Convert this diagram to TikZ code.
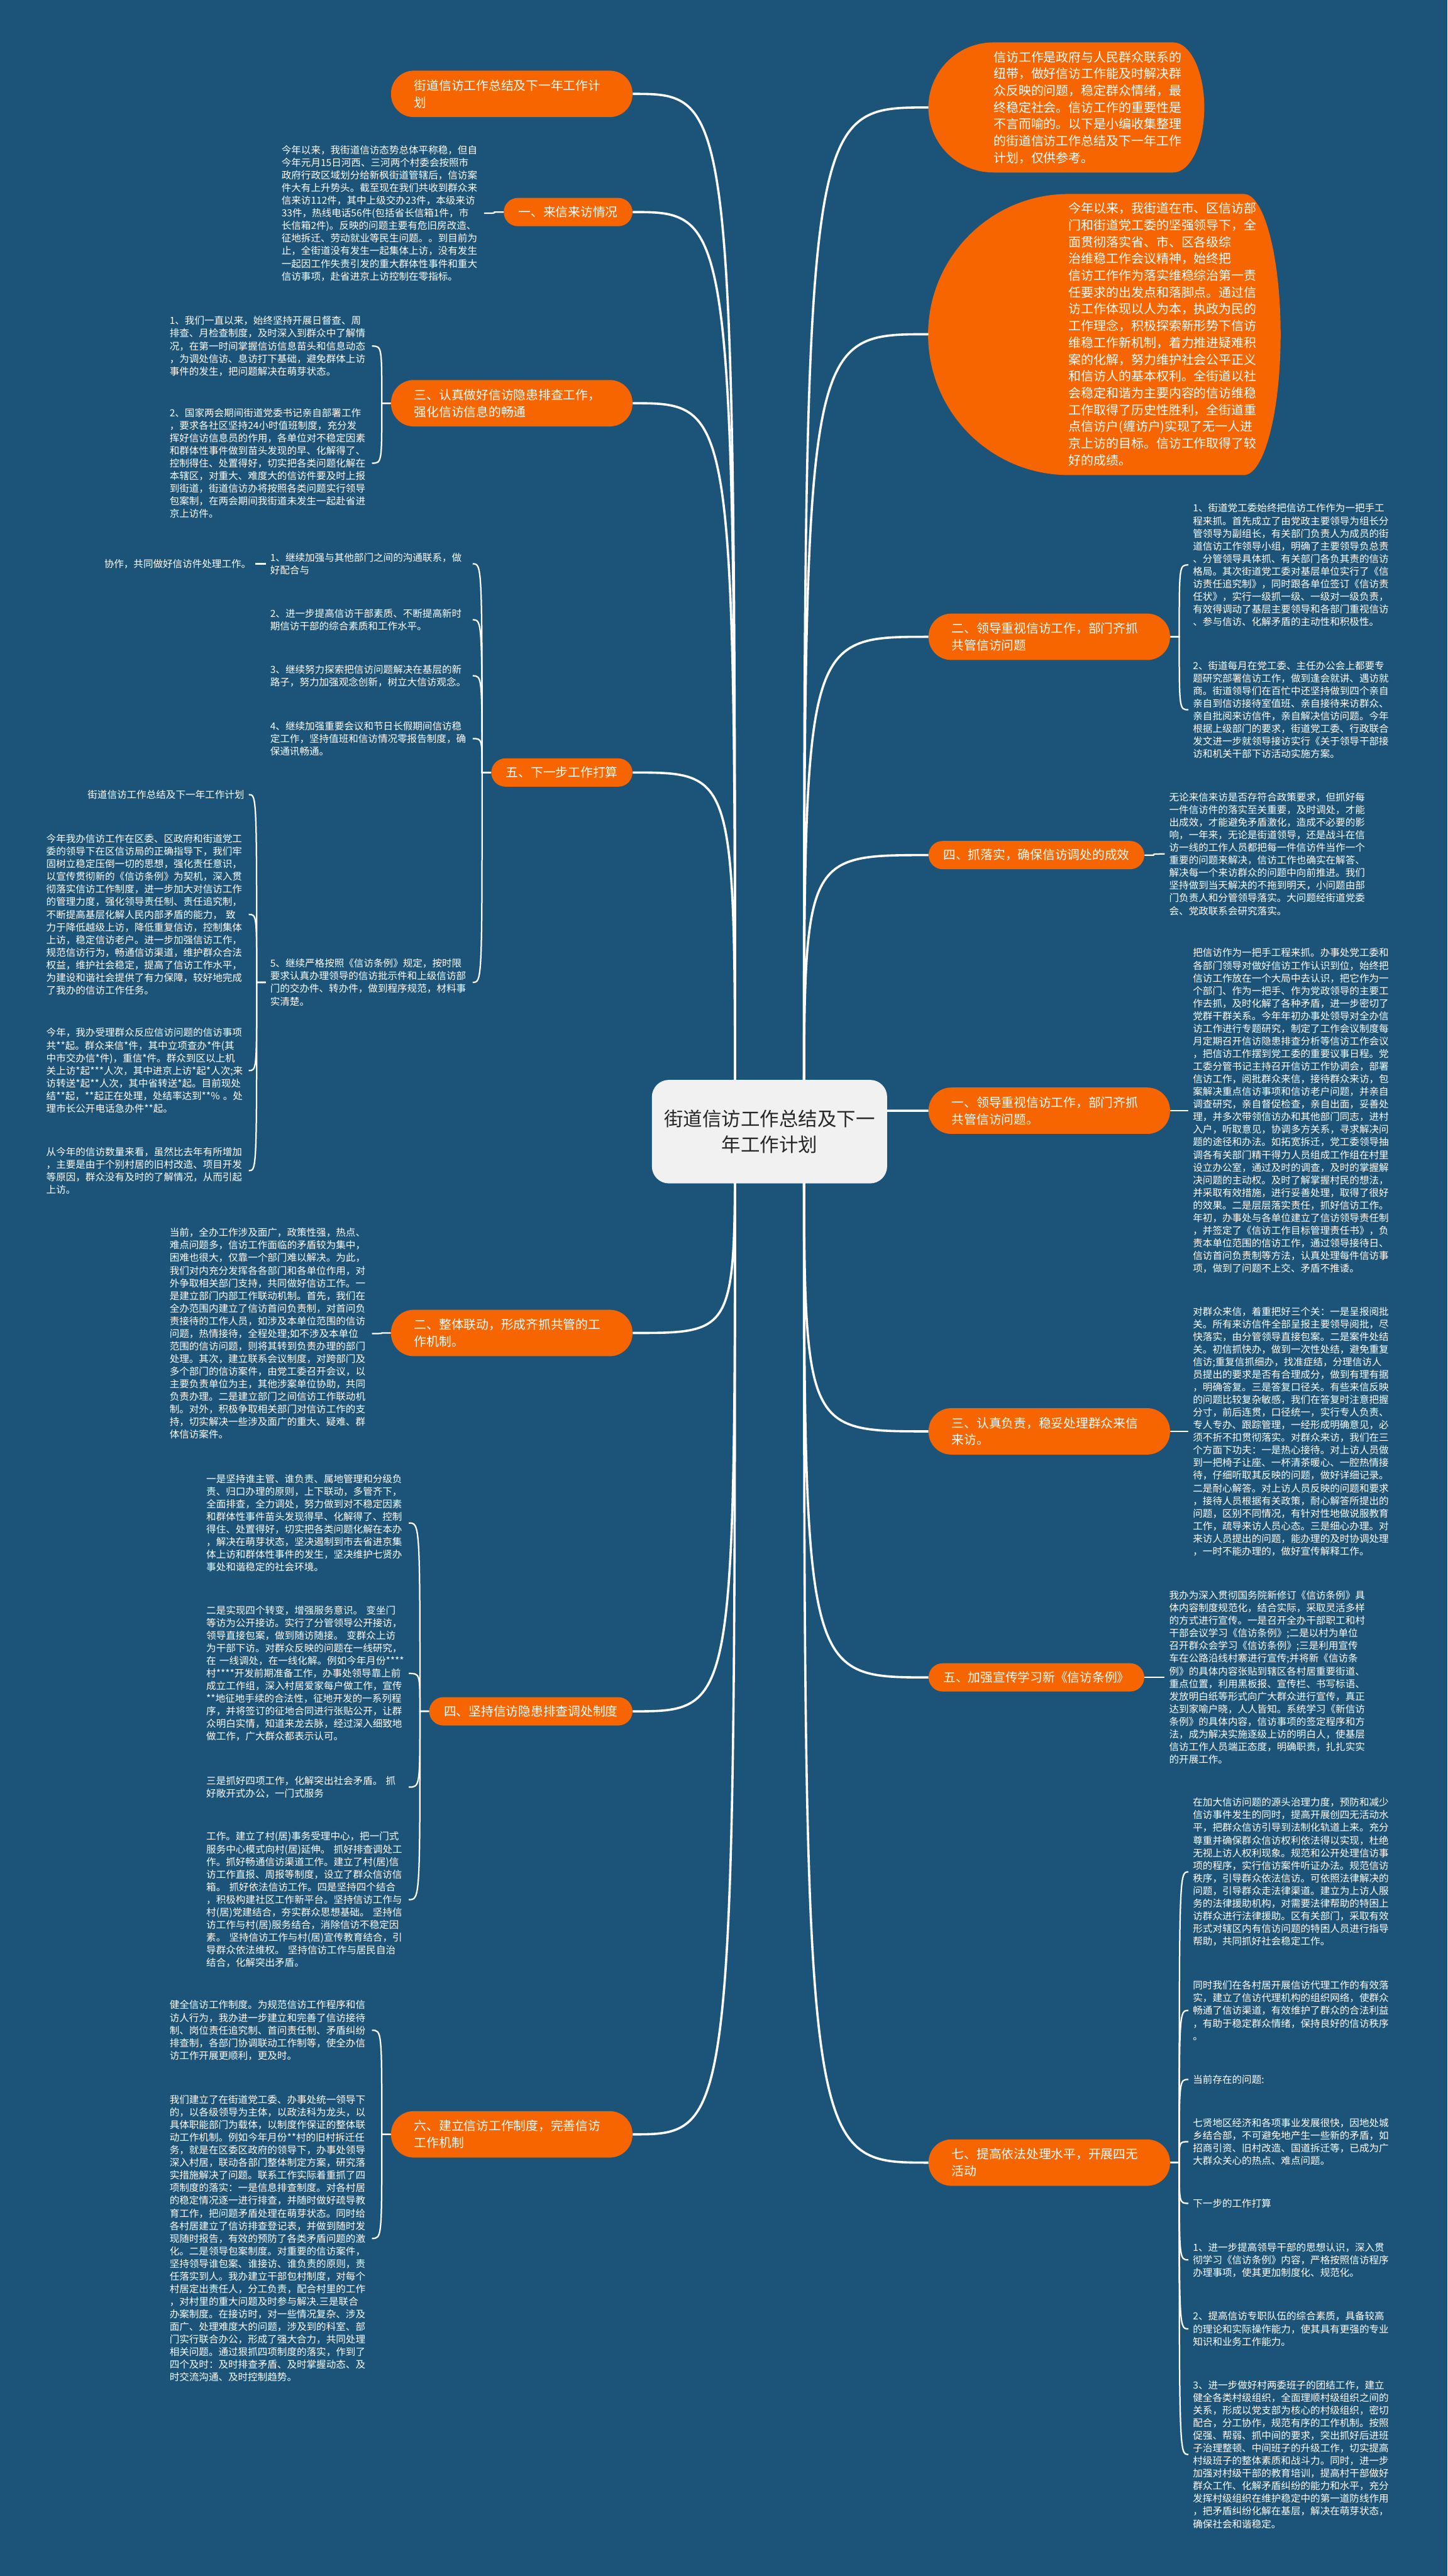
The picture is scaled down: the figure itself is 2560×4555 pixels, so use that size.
\documentclass[tikz,border=0pt]{standalone}
\usepackage{fontspec}
\setmainfont{Noto Sans CJK SC}
\definecolor{bgblue}{RGB}{27,84,120}
\definecolor{topicorange}{RGB}{247,101,0}
\definecolor{hubgray}{RGB}{241,241,241}
\pgfdeclarelayer{back}
\pgfdeclarelayer{links}
\pgfsetlayers{back,links,main}
\tikzset{
  hub/.style={fill=hubgray,text=black!85,rounded corners=6mm,align=center,text width=76mm,
    minimum width=83.2mm,minimum height=36.6mm,font=\fontsize{19.3pt}{26pt}\selectfont},
  topic/.style={fill=topicorange,text=white,rounded corners=5mm,inner xsep=5.2mm,inner ysep=0mm,
    minimum height=10mm,font=\fontsize{12.5pt}{17pt}\selectfont},
  topictwo/.style={topic,text width=69mm,align=left,inner xsep=8.2mm,minimum height=16.4mm,rounded corners=8mm},
  bubble/.style={text=white,align=left,text width=68mm,inner ysep=2mm,
    font=\fontsize{12.6pt}{16.9pt}\selectfont},
  note/.style={text=white,inner sep=0pt,outer sep=1.6mm,align=left,text width=70mm,
    font=\fontsize{9.85pt}{12.7pt}\selectfont},
  shortnote/.style={text=white,inner sep=0pt,outer sep=1.6mm,font=\fontsize{9.85pt}{12.7pt}\selectfont},
  trunk/.style={white,line width=0.8mm},
  twig/.style={white,line width=0.5mm}
}
\newcommand{\lnote}[4]{\node[note,anchor=east] (#1) at (#2,#3) {#4};}
\newcommand{\rnote}[4]{\node[note,anchor=west] (#1) at (#2,#3) {#4};}
\newcommand{\ltrunk}[1]{\draw[trunk] (hubL) .. controls (hubL |- #1.east) .. (#1.east);}
\newcommand{\rtrunk}[1]{\draw[trunk] (hubR) .. controls (hubR |- #1.west) .. (#1.west);}
\newcommand{\llink}[2]{\draw[twig] (#1.west) -- ++(-16,0) coordinate (k) .. controls (k |- #2.east) .. (#2.east);}
\newcommand{\rlink}[2]{\draw[twig] (#1.east) -- ++(16,0) coordinate (k) .. controls (k |- #2.west) .. (#2.west);}

\begin{document}
\begin{tikzpicture}[x=0.2mm,y=-0.2mm]
\begin{pgfonlayer}{back}
\fill[bgblue] (0,0) rectangle (2560,4555);
% the two lead bubbles
\fill[topicorange] (1757,75) -- (2075,75) arc[start angle=-90,end angle=90,x radius=55,y radius=115]
  -- (1757,305) arc[start angle=90,end angle=270,radius=115] -- cycle;
\fill[topicorange] (1890,343) -- (2200,343) arc[start angle=-90,end angle=90,x radius=65,y radius=248.5]
  -- (1890,840) arc[start angle=90,end angle=270,radius=248.5] -- cycle;
\end{pgfonlayer}
\useasboundingbox (0,0) rectangle (2560,4555);

% centre
\node[hub] (root) at (1361,2001) {街道信访工作总结及下一\\年工作计划};
\coordinate (hubL) at (1300,2001);
\coordinate (hubR) at (1422,2001);

% left topics
\node[topictwo,anchor=east] (l0) at (1119,166) {街道信访工作总结及下一年工作计\\划};
\node[topic,anchor=east] (l1) at (1119,375) {一、来信来访情况};
\node[topictwo,anchor=east] (l3) at (1119,713) {三、认真做好信访隐患排查工作，\\强化信访信息的畅通};
\node[topic,anchor=east] (l5) at (1119,1366) {五、下一步工作打算};
\node[topictwo,anchor=east] (l2) at (1119,2357) {二、整体联动，形成齐抓共管的工\\作机制。};
\node[topic,anchor=east] (l4) at (1119,3026) {四、坚持信访隐患排查调处制度};
\node[topictwo,anchor=east] (l6) at (1119,3774) {六、建立信访工作制度，完善信访\\工作机制};

% right topics
\node[bubble,inner xsep=23mm,anchor=west] (lead) at (1642,190)
  {信访工作是政府与人民群众联系的\\纽带，做好信访工作能及时解决群\\众反映的问题，稳定群众情绪，最\\终稳定社会。信访工作的重要性是\\不言而喻的。以下是小编收集整理\\的街道信访工作总结及下一年工作\\计划，仅供参考。};
\node[bubble,inner xsep=49.6mm,anchor=west] (summary) at (1642,591)
  {今年以来，我街道在市、区信访部\\门和街道党工委的坚强领导下，全\\面贯彻落实省、市、区各级综\\治维稳工作会议精神，始终把\\信访工作作为落实维稳综治第一责\\任要求的出发点和落脚点。通过信\\访工作体现以人为本，执政为民的\\工作理念，积极探索新形势下信访\\维稳工作新机制，着力推进疑难积\\案的化解，努力维护社会公平正义\\和信访人的基本权利。全街道以社\\会稳定和谐为主要内容的信访维稳\\工作取得了历史性胜利，全街道重\\点信访户(缠访户)实现了无一人进\\京上访的目标。信访工作取得了较\\好的成绩。};
\node[topictwo,anchor=west] (r2) at (1642,1126) {二、领导重视信访工作，部门齐抓\\共管信访问题};
\node[topic,anchor=west] (r4) at (1642,1512) {四、抓落实，确保信访调处的成效};
\node[topictwo,anchor=west] (r1) at (1642,1964) {一、领导重视信访工作，部门齐抓\\共管信访问题。};
\node[topictwo,anchor=west] (r3) at (1642,2531) {三、认真负责，稳妥处理群众来信\\来访。};
\node[topic,anchor=west] (r5) at (1642,2966) {五、加强宣传学习新《信访条例》};
\node[topictwo,anchor=west] (r7) at (1642,3824) {七、提高依法处理水平，开展四无\\活动};

% left notes
\lnote{t1}{856}{377}{今年以来，我街道信访态势总体平称稳，但自\\今年元月15日河西、三河两个村委会按照市\\政府行政区域划分给新枫街道管辖后，信访案\\件大有上升势头。截至现在我们共收到群众来\\信来访112件，其中上级交办23件，本级来访\\33件，热线电话56件(包括省长信箱1件，市\\长信箱2件)。反映的问题主要有危旧房改造、\\征地拆迁、劳动就业等民生问题。。到目前为\\止，全街道没有发生一起集体上访，没有发生\\一起因工作失责引发的重大群体性事件和重大\\信访事项，赴省进京上访控制在零指标。}
\lnote{c3a}{658}{612}{1、我们一直以来，始终坚持开展日督查、周\\排查、月检查制度，及时深入到群众中了解情\\况，在第一时间掌握信访信息苗头和信息动态\\，为调处信访、息访打下基础，避免群体上访\\事件的发生，把问题解决在萌芽状态。}
\lnote{c3b}{658}{819}{2、国家两会期间街道党委书记亲自部署工作\\，要求各社区坚持24小时值班制度，充分发\\挥好信访信息员的作用，各单位对不稳定因素\\和群体性事件做到苗头发现的早、化解得了、\\控制得住、处置得好，切实把各类问题化解在\\本辖区，对重大、难度大的信访件要及时上报\\到街道，街道信访办将按照各类问题实行领导\\包案制，在两会期间我街道未发生一起赴省进\\京上访件。}
\lnote{c5a}{836}{997}{1、继续加强与其他部门之间的沟通联系，做\\好配合与}
\lnote{c5b}{836}{1096}{2、进一步提高信访干部素质、不断提高新时\\期信访干部的综合素质和工作水平。}
\lnote{c5c}{836}{1195}{3、继续努力探索把信访问题解决在基层的新\\路子，努力加强观念创新，树立大信访观念。}
\lnote{c5d}{836}{1306}{4、继续加强重要会议和节日长假期间信访稳\\定工作，坚持值班和信访情况零报告制度，确\\保通讯畅通。}
\lnote{c5e}{836}{1737}{5、继续严格按照《信访条例》规定，按时限\\要求认真办理领导的信访批示件和上级信访部\\门的交办件、转办件，做到程序规范，材料事\\实清楚。}
\node[shortnote,anchor=east] (coop) at (452,997) {协作，共同做好信访件处理工作。};
\node[shortnote,anchor=east] (f1) at (440,1405) {街道信访工作总结及下一年工作计划};
\lnote{f2}{440}{1617}{今年我办信访工作在区委、区政府和街道党工\\委的领导下在区信访局的正确指导下，我们牢\\固树立稳定压倒一切的思想，强化责任意识，\\以宣传贯彻新的《信访条例》为契机，深入贯\\彻落实信访工作制度，进一步加大对信访工作\\的管理力度，强化领导责任制、责任追究制，\\不断提高基层化解人民内部矛盾的能力， 致\\力于降低越级上访，降低重复信访，控制集体\\上访，稳定信访老户。进一步加强信访工作，\\规范信访行为，畅通信访渠道，维护群众合法\\权益，维护社会稳定，提高了信访工作水平，\\为建设和谐社会提供了有力保障，较好地完成\\了我办的信访工作任务。}
\lnote{f3}{440}{1893}{今年，我办受理群众反应信访问题的信访事项\\共**起。群众来信*件，其中立项查办*件(其\\中市交办信*件)，重信*件。群众到区以上机\\关上访*起***人次，其中进京上访*起*人次;来\\访转送*起**人次，其中省转送*起。目前现处\\结**起，**起正在处理，处结率达到**\% 。处\\理市长公开电话急办件**起。}
\lnote{f4}{440}{2070}{从今年的信访数量来看，虽然比去年有所增加\\，主要是由于个别村居的旧村改造、项目开发\\等原因，群众没有及时的了解情况，从而引起\\上访。}
\lnote{c2a}{658}{2358}{当前，全办工作涉及面广，政策性强，热点、\\难点问题多，信访工作面临的矛盾较为集中，\\困难也很大，仅靠一个部门难以解决。为此，\\我们对内充分发挥各各部门和各单位作用，对\\外争取相关部门支持，共同做好信访工作。一\\是建立部门内部工作联动机制。首先，我们在\\全办范围内建立了信访首问负责制，对首问负\\责接待的工作人员，如涉及本单位范围的信访\\问题，热情接待，全程处理;如不涉及本单位\\范围的信访问题，则将其转到负责办理的部门\\处理。其次，建立联系会议制度，对跨部门及\\多个部门的信访案件，由党工委召开会议，以\\主要负责单位为主，其他涉案单位协助，共同\\负责办理。二是建立部门之间信访工作联动机\\制。对外，积极争取相关部门对信访工作的支\\持，切实解决一些涉及面广的重大、疑难、群\\体信访案件。}
\lnote{c4a}{723}{2693}{一是坚持谁主管、谁负责、属地管理和分级负\\责、归口办理的原则，上下联动，多管齐下，\\全面排查，全力调处，努力做到对不稳定因素\\和群体性事件苗头发现得早、化解得了、控制\\得住、处置得好，切实把各类问题化解在本办\\，解决在萌芽状态，坚决遏制到市去省进京集\\体上访和群体性事件的发生，坚决维护七贤办\\事处和谐稳定的社会环境。}
\lnote{c4b}{723}{2959}{二是实现四个转变，增强服务意识。 变坐门\\等访为公开接访。实行了分管领导公开接访，\\领导直接包案，做到随访随接。 变群众上访\\为干部下访。对群众反映的问题在一线研究，\\在 一线调处，在一线化解。例如今年月份****\\村****开发前期准备工作，办事处领导靠上前\\成立工作组，深入村居爱家每户做工作，宣传\\{}**地征地手续的合法性，征地开发的一系列程\\序，并将签订的征地合同进行张贴公开，让群\\众明白实情，知道来龙去脉，经过深入细致地\\做工作，广大群众都表示认可。}
\lnote{c4c}{723}{3160}{三是抓好四项工作，化解突出社会矛盾。 抓\\好敞开式办公，一门式服务}
\lnote{c4d}{723}{3359}{工作。建立了村(居)事务受理中心，把一门式\\服务中心模式向村(居)延伸。 抓好排查调处工\\作。抓好畅通信访渠道工作。建立了村(居)信\\访工作直报、周报等制度，设立了群众信访信\\箱。 抓好依法信访工作。四是坚持四个结合\\，积极构建社区工作新平台。坚持信访工作与\\村(居)党建结合，夯实群众思想基础。 坚持信\\访工作与村(居)服务结合，消除信访不稳定因\\素。 坚持信访工作与村(居)宣传教育结合，引\\导群众依法维权。 坚持信访工作与居民自治\\结合，化解突出矛盾。}
\lnote{c6a}{658}{3590}{健全信访工作制度。为规范信访工作程序和信\\访人行为，我办进一步建立和完善了信访接待\\制、岗位责任追究制、首问责任制、矛盾纠纷\\排查制，各部门协调联动工作制等，使全办信\\访工作开展更顺利，更及时。}
\lnote{c6b}{658}{3958}{我们建立了在街道党工委、办事处统一领导下\\的，以各级领导为主体，以政法科为龙头，以\\具体职能部门为载体，以制度作保证的整体联\\动工作机制。例如今年月份**村的旧村拆迁任\\务，就是在区委区政府的领导下，办事处领导\\深入村居，联动各部门整体制定方案，研究落\\实措施解决了问题。联系工作实际着重抓了四\\项制度的落实：一是信息排查制度。对各村居\\的稳定情况逐一进行排查，并随时做好疏导教\\育工作，把问题矛盾处理在萌芽状态。同时给\\各村居建立了信访排查登记表，并做到随时发\\现随时报告，有效的预防了各类矛盾问题的激\\化。二是领导包案制度。对重要的信访案件，\\坚持领导谁包案、谁接访、谁负责的原则，责\\任落实到人。我办建立干部包村制度，对每个\\村居定出责任人，分工负责，配合村里的工作\\，对村里的重大问题及时参与解决.三是联合\\办案制度。在接访时，对一些情况复杂、涉及\\面广、处理难度大的问题，涉及到的科室、部\\门实行联合办公，形成了强大合力，共同处理\\相关问题。通过狠抓四项制度的落实，作到了\\四个及时：及时排查矛盾、及时掌握动态、及\\时交流沟通、及时控制趋势。}

% right notes
\rnote{d2a}{2102}{999}{1、街道党工委始终把信访工作作为一把手工\\程来抓。首先成立了由党政主要领导为组长分\\管领导为副组长，有关部门负责人为成员的街\\道信访工作领导小组，明确了主要领导负总责\\、分管领导具体抓、有关部门各负其责的信访\\格局。其次街道党工委对基层单位实行了《信\\访责任追究制》，同时跟各单位签订《信访责\\任状》，实行一级抓一级、一级对一级负责，\\有效得调动了基层主要领导和各部门重视信访\\、参与信访、化解矛盾的主动性和积极性。}
\rnote{d2b}{2102}{1255}{2、街道每月在党工委、主任办公会上都要专\\题研究部署信访工作，做到逢会就讲、遇访就\\商。街道领导们在百忙中还坚持做到四个亲自\\亲自到信访接待室值班、亲自接待来访群众、\\亲自批阅来访信件，亲自解决信访问题。今年\\根据上级部门的要求，街道党工委、行政联合\\发文进一步就领导接访实行《关于领导干部接\\访和机关干部下访活动实施方案。}
\rnote{d4}{2060}{1510}{无论来信来访是否存符合政策要求，但抓好每\\一件信访件的落实至关重要，及时调处，才能\\出成效，才能避免矛盾激化，造成不必要的影\\响，一年来，无论是街道领导，还是战斗在信\\访一线的工作人员都把每一件信访件当作一个\\重要的问题来解决，信访工作也确实在解答、\\解决每一个来访群众的问题中向前推进。我们\\坚持做到当天解决的不拖到明天，小问题由部\\门负责人和分管领导落实。大问题经街道党委\\会、党政联系会研究落实。}
\rnote{d1}{2102}{1964}{把信访作为一把手工程来抓。办事处党工委和\\各部门领导对做好信访工作认识到位，始终把\\信访工作放在一个大局中去认识，把它作为一\\个部门、作为一把手、作为党政领导的主要工\\作去抓，及时化解了各种矛盾，进一步密切了\\党群干群关系。今年年初办事处领导对全办信\\访工作进行专题研究，制定了工作会议制度每\\月定期召开信访隐患排查分析等信访工作会议\\，把信访工作摆到党工委的重要议事日程。党\\工委分管书记主持召开信访工作协调会，部署\\信访工作，阅批群众来信，接待群众来访，包\\案解决重点信访事项和信访老户问题，并亲自\\调查研究，亲自督促检查，亲自出面，妥善处\\理，并多次带领信访办和其他部门同志，进村\\入户，听取意见，协调多方关系，寻求解决问\\题的途径和办法。如拓宽拆迁，党工委领导抽\\调各有关部门精干得力人员组成工作组在村里\\设立办公室，通过及时的调查，及时的掌握解\\决问题的主动权。及时了解掌握村民的想法，\\并采取有效措施，进行妥善处理，取得了很好\\的效果。二是层层落实责任，抓好信访工作。\\年初，办事处与各单位建立了信访领导责任制\\，并签定了《信访工作目标管理责任书》，负\\责本单位范围的信访工作，通过领导接待日、\\信访首问负责制等方法，认真处理每件信访事\\项，做到了问题不上交、矛盾不推诿。}
\rnote{d3}{2102}{2531}{对群众来信，着重把好三个关：一是呈报阅批\\关。所有来访信件全部呈报主要领导阅批，尽\\快落实，由分管领导直接包案。二是案件处结\\关。初信抓快办，做到一次性处结，避免重复\\信访;重复信抓细办，找准症结，分理信访人\\员提出的要求是否有合理成分，做到有理有据\\，明确答复。三是答复口径关。有些来信反映\\的问题比较复杂敏感，我们在答复时注意把握\\分寸，前后连贯，口径统一，实行专人负责、\\专人专办、跟踪管理，一经形成明确意见，必\\须不折不扣贯彻落实。对群众来访，我们在三\\个方面下功夫：一是热心接待。对上访人员做\\到一把椅子让座、一杯清茶暖心、一腔热情接\\待，仔细听取其反映的问题，做好详细记录。\\二是耐心解答。对上访人员反映的问题和要求\\，接待人员根据有关政策，耐心解答所提出的\\问题，区别不同情况，有针对性地做说服教育\\工作，疏导来访人员心态。三是细心办理。对\\来访人员提出的问题，能办理的及时协调处理\\，一时不能办理的，做好宣传解释工作。}
\rnote{d5}{2060}{2966}{我办为深入贯彻国务院新修订《信访条例》具\\体内容制度规范化，结合实际，采取灵活多样\\的方式进行宣传。一是召开全办干部职工和村\\干部会议学习《信访条例》;二是以村为单位\\召开群众会学习《信访条例》;三是利用宣传\\车在公路沿线村寨进行宣传;并将新《信访条\\例》的具体内容张贴到辖区各村居重要街道、\\重点位置，利用黑板报、宣传栏、书写标语、\\发放明白纸等形式向广大群众进行宣传，真正\\达到家喻户晓，人人皆知。系统学习《新信访\\条例》的具体内容，信访事项的签定程序和方\\法，成为解决实施逐级上访的明白人，使基层\\信访工作人员端正态度，明确职责，扎扎实实\\的开展工作。}
\rnote{e1}{2102}{3310}{在加大信访问题的源头治理力度，预防和减少\\信访事件发生的同时，提高开展创四无活动水\\平，把群众信访引导到法制化轨道上来。充分\\尊重并确保群众信访权利依法得以实现，杜绝\\无视上访人权利现象。规范和公开处理信访事\\项的程序，实行信访案件听证办法。规范信访\\秩序，引导群众依法信访。可依照法律解决的\\问题，引导群众走法律渠道。建立为上访人服\\务的法律援助机构，对需要法律帮助的特困上\\访群众进行法律援助。区有关部门，采取有效\\形式对辖区内有信访问题的特困人员进行指导\\帮助，共同抓好社会稳定工作。}
\rnote{e2}{2102}{3555}{同时我们在各村居开展信访代理工作的有效落\\实，建立了信访代理机构的组织网络，使群众\\畅通了信访渠道，有效维护了群众的合法利益\\，有助于稳定群众情绪，保持良好的信访秩序\\。}
\node[shortnote,anchor=west] (e3) at (2102,3677) {当前存在的问题:};
\rnote{e4}{2102}{3787}{七贤地区经济和各项事业发展很快，因地处城\\乡结合部，不可避免地产生一些新的矛盾，如\\招商引资、旧村改造、国道拆迁等，已成为广\\大群众关心的热点、难点问题。}
\node[shortnote,anchor=west] (e5) at (2102,3896) {下一步的工作打算};
\rnote{e6}{2102}{3996}{1、进一步提高领导干部的思想认识，深入贯\\彻学习《信访条例》内容，严格按照信访程序\\办理事项，使其更加制度化、规范化。}
\rnote{e7}{2102}{4118}{2、提高信访专职队伍的综合素质，具备较高\\的理论和实际操作能力，使其具有更强的专业\\知识和业务工作能力。}
\rnote{e8}{2102}{4340}{3、进一步做好村两委班子的团结工作，建立\\健全各类村级组织，全面理顺村级组织之间的\\关系，形成以党支部为核心的村级组织，密切\\配合，分工协作，规范有序的工作机制。按照\\促强、帮弱、抓中间的要求，突出抓好后进班\\子治理整顿、中间班子的升级工作，切实提高\\村级班子的整体素质和战斗力。同时，进一步\\加强对村级干部的教育培训，提高村干部做好\\群众工作、化解矛盾纠纷的能力和水平，充分\\发挥村级组织在维护稳定中的第一道防线作用\\，把矛盾纠纷化解在基层，解决在萌芽状态，\\确保社会和谐稳定。}

% connectors
\begin{pgfonlayer}{links}
\ltrunk{l0} \ltrunk{l1} \ltrunk{l3} \ltrunk{l5} \ltrunk{l2} \ltrunk{l4} \ltrunk{l6}
\rtrunk{lead} \rtrunk{summary} \rtrunk{r2} \rtrunk{r4} \rtrunk{r1} \rtrunk{r3} \rtrunk{r5} \rtrunk{r7}
\llink{l1}{t1}
\llink{l3}{c3a} \llink{l3}{c3b}
\llink{l5}{c5a} \llink{l5}{c5b} \llink{l5}{c5c} \llink{l5}{c5d} \llink{l5}{c5e}
\llink{c5a}{coop}
\llink{c5e}{f1} \llink{c5e}{f2} \llink{c5e}{f3} \llink{c5e}{f4}
\llink{l2}{c2a}
\llink{l4}{c4a} \llink{l4}{c4b} \llink{l4}{c4c} \llink{l4}{c4d}
\llink{l6}{c6a} \llink{l6}{c6b}
\rlink{r2}{d2a} \rlink{r2}{d2b}
\rlink{r4}{d4}
\rlink{r1}{d1}
\rlink{r3}{d3}
\rlink{r5}{d5}
\rlink{r7}{e1} \rlink{r7}{e2} \rlink{r7}{e3} \rlink{r7}{e4} \rlink{r7}{e5} \rlink{r7}{e6} \rlink{r7}{e7} \rlink{r7}{e8}
\end{pgfonlayer}
\end{tikzpicture}
\end{document}
